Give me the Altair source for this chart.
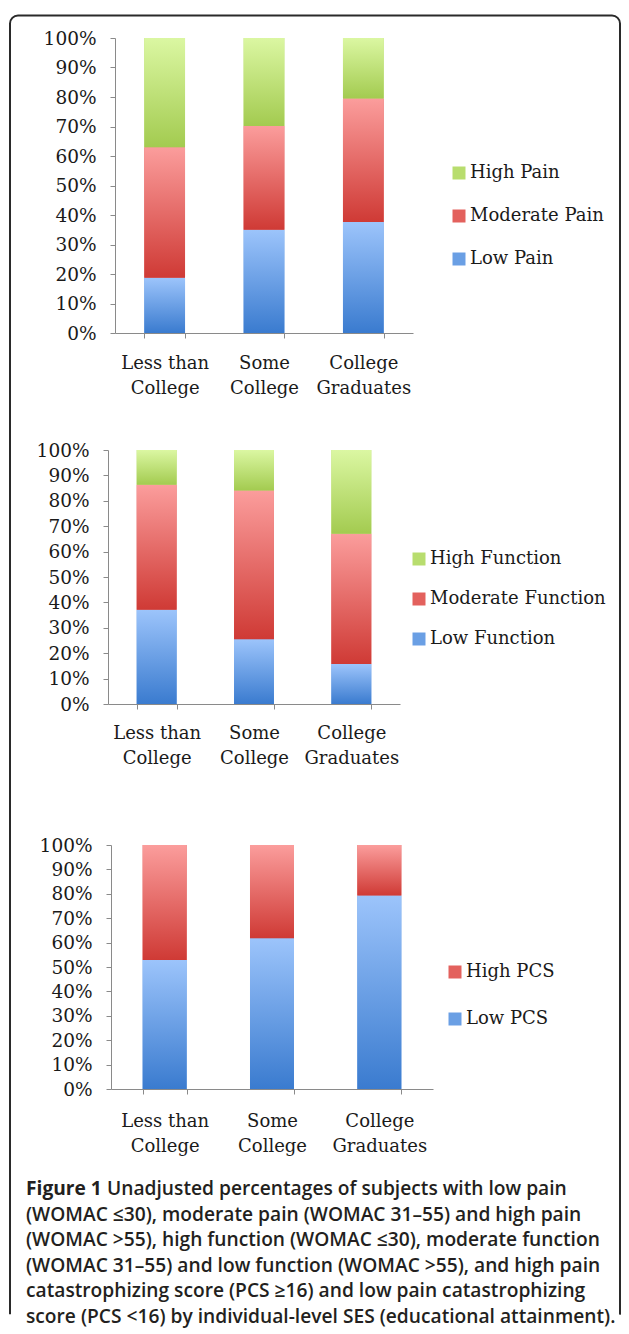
import altair as alt
import pandas as pd

# ---------------- data ----------------
CATEGORIES = ["Less than\nCollege", "Some\nCollege", "College\nGraduates"]

PAIN_LABELS = ["Low Pain", "Moderate Pain", "High Pain"]
PAIN_LOW = [18.7, 35.0, 37.6]
PAIN_MODERATE = [44.3, 35.2, 41.9]
PAIN_HIGH = [37.0, 29.8, 20.5]

FUNCTION_LABELS = ["Low Function", "Moderate Function", "High Function"]
FUNCTION_LOW = [37.1, 25.5, 15.7]
FUNCTION_MODERATE = [49.2, 58.6, 51.3]
FUNCTION_HIGH = [13.7, 15.9, 33.0]

PCS_LABELS = ["Low PCS", "High PCS"]
PCS_LOW = [52.9, 61.8, 79.3]
PCS_HIGH = [47.1, 38.2, 20.7]

Y_TICKS = [0, 10, 20, 30, 40, 50, 60, 70, 80, 90, 100]

CAPTION_HEAD = "Figure 1"
CAPTION_FIRST = "Unadjusted percentages of subjects with low pain"
CAPTION_REST = [
    "(WOMAC \u226430), moderate pain (WOMAC 31\u201355) and high pain",
    "(WOMAC >55), high function (WOMAC \u226430), moderate function",
    "(WOMAC 31\u201355) and low function (WOMAC >55), and high pain",
    "catastrophizing score (PCS \u226516) and low pain catastrophizing",
    "score (PCS <16) by individual-level SES (educational attainment).",
]

# ---------------- styles ----------------
SERIF = "DejaVu Serif"
SANS = "Open Sans"
AXIS_GREY = "#8a8a8a"
TEXT = "#1a1a1a"
CAP_SIZE = 19.2

BLUE = ("#9cc4fb", "#3a7bcf", "#6a9fe4")
RED = ("#fb9d9c", "#cf3a35", "#e3615d")
GREEN = ("#dbf7a2", "#a3cb50", "#b8dd6e")


def grad(c):
    return alt.LinearGradient(
        gradient="linear", x1=0, x2=0, y1=0, y2=1,
        stops=[alt.GradientStop(color=c[0], offset=0),
               alt.GradientStop(color=c[1], offset=1)],
    )


def panel(labels, series, palette, width, height, xoff, ytop, leg_x, leg_y, row_pad,
          xlab_pad, extra=()):
    rows = []
    for li, (lab, vals) in enumerate(zip(labels, series)):
        for cat, v in zip(CATEGORIES, vals):
            rows.append({"cat": cat, "series": lab, "level": li, "value": v})
    df = pd.DataFrame(rows)
    base = alt.Chart(df).transform_stack(
        stack="value", groupby=["cat"],
        sort=[alt.SortField(field="level", order="ascending")],
        as_=["y0", "y1"],
    )
    x = alt.X(
        "cat:N", sort=CATEGORIES, title=None,
        scale=alt.Scale(range=[xoff, width], paddingInner=0.59, paddingOuter=0.295),
        axis=alt.Axis(
            labelAngle=0, tickBand="extent", tickSize=5, labelPadding=xlab_pad,
            labelExpr="split(datum.label, '\\n')", labelLineHeight=25,
            labelFont=SERIF, labelFontSize=18, labelColor=TEXT,
            domainColor=AXIS_GREY, tickColor=AXIS_GREY, grid=False,
            labelOverlap=False,
        ),
    )
    y = alt.Y(
        "y0:Q", title=None,
        scale=alt.Scale(domain=[0, 100], nice=False, range=[height, ytop]),
        axis=alt.Axis(
            values=Y_TICKS, tickCount=11, labelExpr="datum.value + '%'", offset=-xoff,
            tickSize=5, labelPadding=14, labelFont=SERIF, labelFontSize=18.5,
            labelColor=TEXT, domainColor=AXIS_GREY, tickColor=AXIS_GREY,
            grid=False, labelOverlap=False,
        ),
    )
    legend_order = labels[::-1]
    solid = base.mark_bar().encode(
        x=x, y=y, y2="y1:Q",
        color=alt.Color(
            "series:N",
            scale=alt.Scale(domain=legend_order,
                            range=[palette[labels.index(l)][2] for l in legend_order]),
            legend=alt.Legend(
                title=None, orient="none", legendX=leg_x, legendY=leg_y,
                symbolType="square", symbolSize=169, symbolStrokeWidth=0,
                labelFont=SERIF, labelFontSize=18, labelColor=TEXT,
                labelOffset=2, rowPadding=row_pad, padding=0, labelLimit=400,
            ),
        ),
    )
    layers = list(extra) + [solid]
    for li, lab in enumerate(labels):
        layers.append(
            base.transform_filter(alt.datum.series == lab)
            .mark_bar(fill=grad(palette[li]))
            .encode(x=x, y=y, y2="y1:Q")
        )
    return alt.layer(*layers).properties(width=width, height=height)


one = pd.DataFrame({"k": [0]})

frame = alt.Chart(one).mark_rect(
    fillOpacity=0, stroke="#2a2a2a", strokeWidth=2, cornerRadius=8,
    strokeDash=[1897.6, 619.1, 1323.6, 50],
).encode(x=alt.value(-98), x2=alt.value(512), y=alt.value(-22.5), y2=alt.value(1284.5))

CAP_Y = 398
cap_head = alt.Chart(one).mark_text(
    align="left", baseline="alphabetic", font=SANS, fontSize=CAP_SIZE, fontWeight=700,
    color="#231f20",
).encode(x=alt.value(-82), y=alt.value(CAP_Y), text=alt.value(CAPTION_HEAD))

cap_first = alt.Chart(one).mark_text(
    align="left", baseline="alphabetic", font=SANS, fontSize=CAP_SIZE, fontWeight=600,
    color="#231f20",
).encode(x=alt.value(-1), y=alt.value(CAP_Y), text=alt.value(CAPTION_FIRST))

cap_rest = alt.Chart(one).mark_text(
    align="left", baseline="alphabetic", font=SANS, fontSize=CAP_SIZE, fontWeight=600,
    color="#231f20", lineBreak="\n", lineHeight=25.6,
).encode(x=alt.value(-82), y=alt.value(CAP_Y + 25.6), text=alt.value("\n".join(CAPTION_REST)))

p1 = panel(PAIN_LABELS, [PAIN_LOW, PAIN_MODERATE, PAIN_HIGH], [BLUE, RED, GREEN],
           305, 295, 7, 0, 342, 126, 25, 16, extra=[frame])
p2 = panel(FUNCTION_LABELS, [FUNCTION_LOW, FUNCTION_MODERATE, FUNCTION_HIGH], [BLUE, RED, GREEN],
           292, 278, 0, 24, 302, 124, 22, 15)
p3 = panel(PCS_LABELS, [PCS_LOW, PCS_HIGH], [BLUE, RED],
           325, 292, 3, 48, 338, 166, 29, 18, extra=[cap_head, cap_first, cap_rest])

chart = (
    alt.vconcat(p1, p2, p3, spacing=93, bounds="flush")
    .resolve_scale(color="independent")
    .properties(padding={"left": 1, "top": 6, "right": 0, "bottom": 0})
    .configure_view(strokeWidth=0)
)

chart.save("out.html", embed_options={"renderer": "svg", "actions": False})
